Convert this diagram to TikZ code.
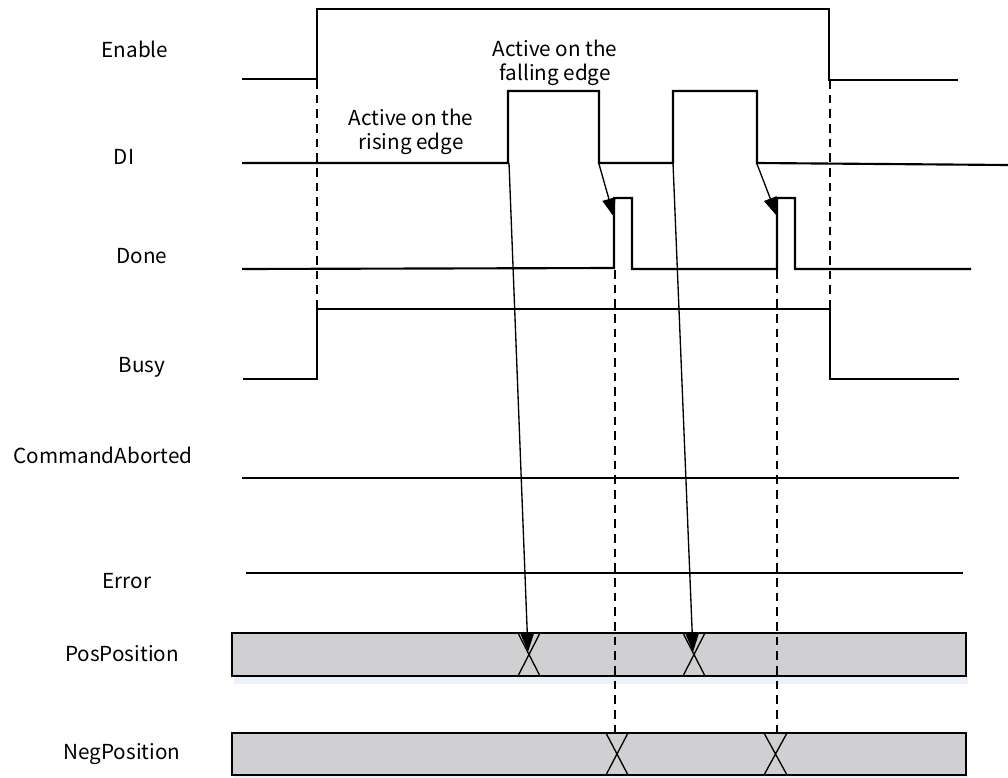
\documentclass[tikz,border=0pt]{standalone}
\usepackage{fontspec}
\setmainfont{Noto Sans CJK SC}
\usetikzlibrary{arrows.meta}
\definecolor{barfill}{RGB}{208,208,210}
\definecolor{barshadow}{RGB}{236,240,249}
\tikzset{
  sig/.style={line width=1.6pt, line join=miter},
  guide/.style={line width=1.1pt, dash pattern=on 6.5pt off 4.5pt},
  edgearrow/.style={line width=1pt, -{Triangle[length=14pt,width=10pt]}},
  lbl/.style={anchor=base, inner sep=0pt, font=\fontsize{15.5}{18}\selectfont},
  note/.style={anchor=base, inner sep=0pt, align=center, font=\fontsize{15.5}{18}\selectfont},
  bar/.style={fill=barfill, draw=black, line width=1.6pt},
  xing/.style={line width=1pt}
}
\begin{document}
\begin{tikzpicture}[x=0.75pt, y=-0.75pt]
\useasboundingbox (0,0) rectangle (1008,778);

% labels
\node[lbl] (lEnable) at (135,57) {Enable};
\node[lbl] (lDI) at (124,164) {DI};
\node[lbl] (lDone) at (142,263) {Done};
\node[lbl] (lBusy) at (142,372) {Busy};
\node[lbl] (lCmd) at (103,463) {CommandAborted};
\node[lbl] (lErr) at (127,588) {Error};
\node[lbl] (lPos) at (122,661) {PosPosition};
\node[lbl] (lNeg) at (122,759) {NegPosition};
\node[note] (nRise) at (411,149) {Active on the\\rising edge};
\node[note] (nFall) at (555,80) {Active on the\\falling edge};

% bars
\fill[barshadow] (234,676) rectangle (968,684);
\fill[barshadow] (234,775) rectangle (968,778);
\draw[bar] (232,633) rectangle (966,676);
\draw[bar] (232,733) rectangle (966,775);

% X crossings PosPosition
\draw[xing] (518,633) -- (540,676) (540,633) -- (518,676);
\draw[xing] (683,633) -- (705,676) (705,633) -- (683,676);
% X crossings NegPosition
\draw[xing] (606,733) -- (628,775) (628,733) -- (606,775);
\draw[xing] (764,733) -- (787,775) (787,733) -- (764,775);

% waveforms
\draw[sig] (242,79) -- (317,79) -- (317,9) -- (829,9) -- (829,80) -- (958,80);
\draw[sig] (242,163) -- (508,163) -- (508,91) -- (599,91) -- (599,163) -- (673,163) -- (673,91) -- (757,91) -- (757,163) -- (1008,165);
\draw[sig] (242,269) -- (614,268) -- (614,198) -- (632,198) -- (632,269) -- (777,269) -- (777,198) -- (795,198) -- (795,269) -- (971,269);
\draw[sig] (243,379) -- (317,379) -- (317,309) -- (830,309) -- (830,379) -- (959,379);
\draw[sig] (242,478) -- (959,478);
\draw[sig] (246,573) -- (963,573);

% dashed guides
\draw[guide] (317,80) -- (317,309);
\draw[guide] (830,80) -- (830,309);
\draw[guide] (615,270) -- (615,733);
\draw[guide] (777,270) -- (777,733);

% arrows
\coordinate (a1s) at (509,163);
\coordinate (a1e) at (528,652);
\coordinate (a2s) at (673,163);
\coordinate (a2e) at (693,652);
\coordinate (b1s) at (599,164);
\coordinate (b1e) at (614,217);
\coordinate (b2s) at (757,164);
\coordinate (b2e) at (777,216);
\draw[edgearrow] (a1s) -- (a1e);
\draw[edgearrow] (a2s) -- (a2e);
\draw[edgearrow] (b1s) -- (b1e);
\draw[edgearrow] (b2s) -- (b2e);
\end{tikzpicture}
\end{document}
